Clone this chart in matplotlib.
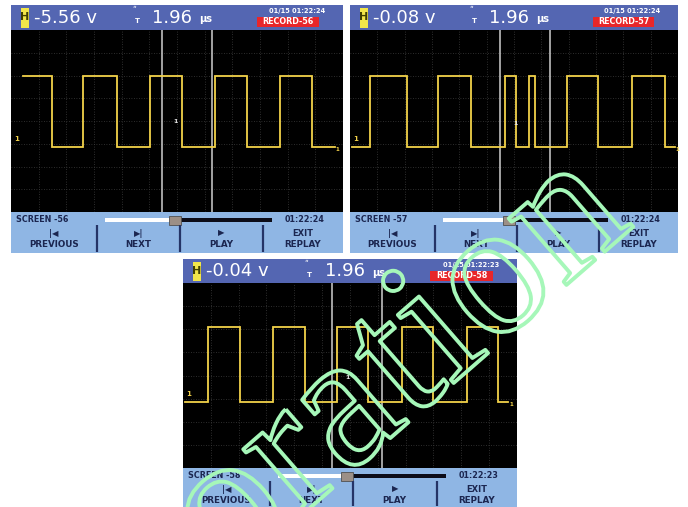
import matplotlib
matplotlib.use('Agg')
import matplotlib.pyplot as plt
import matplotlib.patheffects as pe
from matplotlib.patches import Rectangle

readouts = ['-5.56 v', '-0.08 v', '-0.04 v']
timebase = '1.96'
time_unit = 'μs'
records = ['RECORD-56', 'RECORD-57', 'RECORD-58']
screens = ['SCREEN -56', 'SCREEN -57', 'SCREEN -58']
stamps = ['01/15 01:22:24', '01/15 01:22:24', '01/15 01:22:23']
clocks = ['01:22:24', '01:22:24', '01:22:23']
buttons = [('|◀', 'PREVIOUS'), ('▶|', 'NEXT'), ('▶', 'PLAY'), ('EXIT', 'REPLAY')]

# trace: start, transition times, end (divisions); first level
p1_edges = [0.43, 1.48, 2.60, 3.83, 5.02, 6.18, 7.37, 8.53, 9.72, 10.88, 11.71]
p2_edges = [0.07, 0.73, 2.09, 3.22, 4.43, 5.67, 6.07, 6.55, 6.77, 7.94, 9.07,
            10.32, 11.52, 11.89]
p3_edges = [0.07, 0.90, 2.05, 3.23, 4.38, 5.53, 6.65, 7.87, 8.98, 10.20, 11.32, 11.68]
start_high = [True, False, False]
high_level = [6.0, 6.0, 6.1]
low_level = [2.85, 2.85, 2.85]
cursors = [[5.46, 7.27], [5.49, 7.32], [5.35, 7.15]]
trig_marks = [(5.96, 3.96), (6.04, 3.9), (5.9, 3.93)]
slider_pos = [0.41, 0.39, 0.40]

edges_all = [p1_edges, p2_edges, p3_edges]

# panel boxes in pixels: left, top, width, height, top bar, bottom bar
panels = [(11, 5, 332, 248, 25, 41),
          (350, 5, 328, 248, 25, 41),
          (183, 259, 334, 248, 24, 39)]

W, H = 688, 507
fig = plt.figure(figsize=(W / 100, H / 100), dpi=100)
fig.patch.set_facecolor('white')

topbar = '#5466b2'
botbar = '#8fb6e4'
navy = '#1b2650'


def step_trace(edges, high, hi, lo):
    lvl = hi if high else lo
    xs, ys = [edges[0]], [lvl]
    for e in edges[1:-1]:
        xs.append(e)
        ys.append(lvl)
        lvl = lo if lvl == hi else hi
        xs.append(e)
        ys.append(lvl)
    xs.append(edges[-1])
    ys.append(lvl)
    return xs, ys


for i, (left, top, w, h, th, bh) in enumerate(panels):
    ax = fig.add_axes([left / W, 1 - (top + h) / H, w / W, h / H])
    ax.set_xlim(0, w)
    ax.set_ylim(h, 0)
    ax.axis('off')
    s = w / 332

    # frame + bars
    ax.add_patch(Rectangle((0, 0), w, h, facecolor='black', edgecolor='#9a9a9a', lw=1.2))
    ax.add_patch(Rectangle((0, 0), w, th, facecolor=topbar, edgecolor='none'))
    y0 = h - bh
    ax.add_patch(Rectangle((0, y0), w, bh, facecolor=botbar, edgecolor='none'))

    # top bar content
    ax.add_patch(Rectangle((10 * s, 3), 8 * s, th - 5, facecolor='#f2e64a', edgecolor='none'))
    ax.text(14 * s, th / 2, 'H', color='#404000', fontsize=8, fontweight='bold',
            ha='center', va='center')
    ax.text(23 * s, th / 2 + 0.5, readouts[i], color='white', fontsize=13,
            ha='left', va='center')
    ax.text(123 * s, 6, 'ʺ', color='white', fontsize=6, ha='center', va='center')
    ax.text(126 * s, 16, 'T', color='white', fontsize=5, fontweight='bold',
            ha='center', va='center')
    ax.text(141 * s, th / 2 + 0.5, timebase, color='white', fontsize=13,
            ha='left', va='center')
    ax.text(188 * s, th / 2 + 2, time_unit, color='white', fontsize=7,
            fontweight='bold', ha='left', va='center')
    ax.text(286 * s, 6, stamps[i], color='white', fontsize=4.8, fontweight='bold',
            ha='center', va='center')
    ax.add_patch(Rectangle((246 * s, 11.5), 62 * s, 10.5, facecolor='#e8262a', edgecolor='none'))
    ax.text(277 * s, 17, records[i], color='white', fontsize=5.8, fontweight='bold',
            ha='center', va='center')

    # bottom bar: status row
    ax.text(5 * s, y0 + 8, screens[i], color=navy, fontsize=5.8, fontweight='bold',
            ha='left', va='center')
    bx0, bx1 = 94 * s, 261 * s
    sx = bx0 + slider_pos[i] * (bx1 - bx0)
    ax.add_patch(Rectangle((bx0, y0 + 6), sx - bx0, 4, facecolor='white', edgecolor='none'))
    ax.add_patch(Rectangle((sx, y0 + 6), bx1 - sx, 4, facecolor='#0c0c18', edgecolor='none'))
    ax.add_patch(Rectangle((sx - 4 * s, y0 + 3.5), 12 * s, 9, facecolor='#9c8f86',
                           edgecolor='#505050', lw=0.6))
    ax.text(294 * s, y0 + 8, clocks[i], color=navy, fontsize=5.8, fontweight='bold',
            ha='center', va='center')

    # bottom bar: soft keys
    seps = [0] + [k * w / 4 + 3 * s for k in range(1, 4)] + [w]
    for k in range(1, 4):
        ax.plot([seps[k], seps[k]], [y0 + 13, h - 1],
                color='#253466', lw=1.6, solid_capstyle='butt')
    for k, (icon, label) in enumerate(buttons):
        cx = (seps[k] + seps[k + 1]) / 2
        ax.text(cx, y0 + 21, icon, color=navy, fontsize=6, fontweight='bold',
                ha='center', va='center')
        ax.text(cx, y0 + 32.5, label, color=navy, fontsize=6.3, fontweight='bold',
                ha='center', va='center')

    # scope screen
    scr = fig.add_axes([left / W, 1 - (top + h - bh) / H, w / W, (h - th - bh) / H])
    scr.set_facecolor('black')
    scr.set_xlim(0, 12)
    scr.set_ylim(0, 8)
    for side in scr.spines.values():
        side.set_visible(False)
    scr.set_xticks([])
    scr.set_yticks([])
    for gx in range(1, 12):
        scr.axvline(gx, color='#3c3c3c', lw=0.6, ls=(0, (1, 2)))
    for gy in range(1, 8):
        scr.axhline(gy, color='#3c3c3c', lw=0.6, ls=(0, (1, 2)))
    for c in cursors[i]:
        scr.axvline(c, color='#cfcfcf', lw=1.1)
    xs, ys = step_trace(edges_all[i], start_high[i], high_level[i], low_level[i])
    scr.plot(xs, ys, color='#f2d24a', lw=1.3, solid_joinstyle='miter')
    scr.text(0.2, low_level[i] + 0.35, '1', color='#f2d24a', fontsize=5,
             fontweight='bold', ha='center', va='center')
    scr.text(edges_all[i][-1] + 0.1, low_level[i] - 0.1, '1', color='#f2d24a',
             fontsize=4, fontweight='bold', ha='center', va='center')
    scr.text(trig_marks[i][0], trig_marks[i][1], '1', color='#e8e8e8', fontsize=4.5,
             fontweight='bold', ha='center', va='center')

# outlined watermark across the lower panel
fig.text(400 / W, 1 - 368 / H, 'oration', rotation=41, rotation_mode='anchor',
         fontsize=138, family='Liberation Serif', color=(0, 0, 0, 0),
         ha='center', va='center', zorder=20,
         path_effects=[pe.Stroke(linewidth=2.8, foreground='#a6f7b9')])

fig.savefig('out.png', dpi=100, facecolor='white')
